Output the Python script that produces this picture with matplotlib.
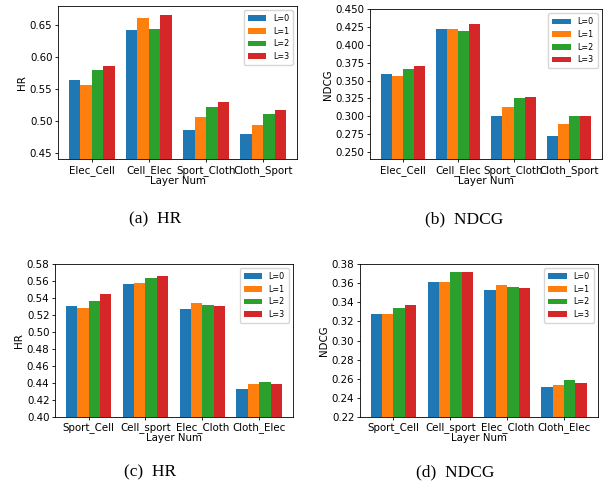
import matplotlib
matplotlib.use("Agg")
import matplotlib.pyplot as plt
import numpy as np

layers = ["L=0", "L=1", "L=2", "L=3"]

# (a) / (b) domains
domains_ab = ["Elec_Cell", "Cell_Elec", "Sport_Cloth", "Cloth_Sport"]
hr_a = [
    [0.564, 0.642, 0.486, 0.480],   # L=0
    [0.556, 0.661, 0.506, 0.494],   # L=1
    [0.580, 0.644, 0.522, 0.511],   # L=2
    [0.586, 0.666, 0.530, 0.517],   # L=3
]
ndcg_b = [
    [0.359, 0.423, 0.300, 0.272],
    [0.356, 0.423, 0.313, 0.289],
    [0.366, 0.420, 0.325, 0.301],
    [0.370, 0.430, 0.327, 0.301],
]

# (c) / (d) domains
domains_cd = ["Sport_Cell", "Cell_sport", "Elec_Cloth", "Cloth_Elec"]
hr_c = [
    [0.531, 0.556, 0.527, 0.433],
    [0.528, 0.558, 0.534, 0.439],
    [0.537, 0.564, 0.532, 0.441],
    [0.545, 0.566, 0.531, 0.439],
]
ndcg_d = [
    [0.328, 0.3615, 0.353, 0.251],
    [0.328, 0.3615, 0.358, 0.253],
    [0.334, 0.372, 0.356, 0.259],
    [0.3375, 0.372, 0.355, 0.256],
]

fig = plt.figure(figsize=(6.13, 4.91), dpi=100)

panels = [
    ([0.0946, 0.676, 0.390, 0.312], domains_ab, hr_a, "HR", (0.44, 0.68), np.arange(0.45, 0.651, 0.05), "%.2f"),
    ([0.6036, 0.676, 0.378, 0.305], domains_ab, ndcg_b, "NDCG", (0.24, 0.45), np.arange(0.25, 0.451, 0.025), "%.3f"),
    ([0.0897, 0.1507, 0.388, 0.3116], domains_cd, hr_c, "HR", (0.40, 0.58), np.arange(0.40, 0.581, 0.02), "%.2f"),
    ([0.587, 0.1507, 0.388, 0.3116], domains_cd, ndcg_d, "NDCG", (0.22, 0.38), np.arange(0.22, 0.381, 0.02), "%.2f"),
]

fs = 7.4
w = 0.2
for rect, cats, vals, ylab, ylim, yt, fmt in panels:
    ax = fig.add_axes(rect)
    x = np.arange(len(cats))
    for i, lab in enumerate(layers):
        ax.bar(x + (i - 1.5) * w, vals[i], w, label=lab)
    ax.set_xticks(x)
    ax.set_xticklabels(cats, fontsize=fs)
    ax.set_yticks(yt)
    ax.set_yticklabels([fmt % v for v in yt], fontsize=fs)
    ax.set_ylim(*ylim)
    ax.set_ylabel(ylab, fontsize=fs, labelpad=2)
    ax.set_xlabel("Layer Num", fontsize=fs, labelpad=0)
    ax.tick_params(length=2.5, width=0.6, pad=1.5)
    for s in ax.spines.values():
        s.set_linewidth(0.6)
    ax.legend(fontsize=5.8, handlelength=2.3, borderpad=0.5, labelspacing=0.45, loc="upper right")

caps = [(0.253, 0.554, "(a)  HR"), (0.757, 0.554, "(b)  NDCG"),
        (0.245, 0.038, "(c)  HR"), (0.742, 0.038, "(d)  NDCG")]
for cx, cy, t in caps:
    fig.text(cx, cy, t, ha="center", va="center", fontsize=12.5, family="Liberation Serif")

fig.savefig("out.png", dpi=100)
